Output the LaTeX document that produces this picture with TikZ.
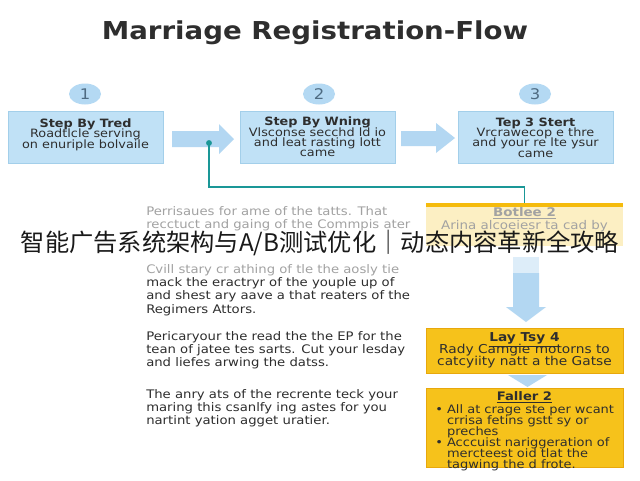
\documentclass[tikz,border=0pt]{standalone}
\usepackage{fontspec}
\setmainfont[FakeStretch=1.12]{DejaVu Sans}
\setsansfont[FakeStretch=1.12]{DejaVu Sans}
\newfontfamily\cjk{Noto Sans CJK SC}
\usetikzlibrary{shapes.geometric,calc}
\newlength\upx \setlength\upx{0.75pt}
\newcommand\tightlines{\lineskiplimit=-20pt\relax}
\definecolor{bluefill}{HTML}{C0E1F6}
\definecolor{bluebord}{HTML}{A3CFEA}
\definecolor{circfill}{HTML}{B4D9F3}
\definecolor{arrowfill}{HTML}{B3D7F2}
\definecolor{arrowpale}{HTML}{DDEDF9}
\definecolor{tealc}{HTML}{1A9797}
\definecolor{ystrong}{HTML}{F6C21B}
\definecolor{ybord}{HTML}{E8A80C}
\definecolor{ypale}{HTML}{FCEFC3}
\definecolor{ystripe}{HTML}{F5BB0C}
\definecolor{txt}{HTML}{2E2E2E}
\definecolor{faded}{HTML}{A2A2A2}
\definecolor{numtxt}{HTML}{4E6B82}
\begin{document}
\begin{tikzpicture}[x=0.75pt,y=-0.75pt,
  bluebox/.style={draw=bluebord, fill=bluefill, minimum width=155\upx, minimum height=52\upx, inner sep=0pt, align=center, font=\fontsize{8.6}{7.8}\selectfont\tightlines, text=txt},
  numcirc/.style={ellipse, fill=circfill, minimum width=32\upx, minimum height=21\upx, inner sep=0pt, font=\fontsize{11}{12}\selectfont, text=numtxt},
  para/.style={anchor=north west, align=left, inner sep=0pt, font=\fontsize{8.85}{10}\selectfont\tightlines, text=txt},
  ybox/.style={draw=ybord, fill=ystrong, minimum width=197\upx, inner sep=0pt, align=center, font=\fontsize{9.2}{9}\selectfont\tightlines, text=txt},
  blockarrow/.style={fill=arrowfill},
  connector/.style={draw=tealc, line width=1.3pt}
]
\useasboundingbox[fill=white] (0,0) rectangle (640,480);

% title
\node[font=\fontsize{18.5}{18}\selectfont\bfseries, text=txt] (title) at (315,33) {Marriage Registration-Flow};

% number circles
\node[numcirc] (c1) at (85,94) {1};
\node[numcirc] (c2) at (319,94) {2};
\node[numcirc] (c3) at (535,94) {3};

% top boxes
\node[bluebox] (b1) at (85.5,137) {\textbf{Step By Tred}\\Roadtlcle serving\\on enuriple bolvaile\\[-3\upx]};
\node[bluebox] (b2) at (317.5,137) {\textbf{Step By Wning}\\Vlsconse secchd ld io\\and leat rasting lott\\came};
\node[bluebox] (b3) at (535.5,137.5) {\textbf{Tep 3 Stert}\\Vrcrawecop e thre\\and your re lte ysur\\came};

% block arrows between boxes
\fill[blockarrow] (172,131) -- (219,131) -- (219,124) -- (234,139) -- (219,154) -- (219,147) -- (172,147) -- cycle;
\fill[blockarrow] (401,131) -- (436,131) -- (436,123) -- (455,138) -- (436,153) -- (436,146) -- (401,146) -- cycle;

% pale yellow box
\node[draw=none, fill=ypale, minimum width=197\upx, minimum height=43\upx, inner sep=0pt] (botlee) at (524.5,224.5) {};
\fill[ystripe] (botlee.north west) rectangle ($(botlee.north east)+(0,4)$);
\node[anchor=north, inner sep=0pt, align=center, font=\fontsize{9}{10}\selectfont, text=faded] (botleetxt) at (524.5,207) {\underline{\textbf{Botlee 2}}\\Arina alcoeiesr ta cad by};

% teal connector
\coordinate (tstart) at (209,143);
\draw[connector] (tstart) -- (209,187) -| (botlee.north);
\fill[tealc] (tstart) circle (2.2pt);

% down arrow
\fill[arrowpale] (513,257) rectangle (539,273);
\fill[blockarrow] (513,273) -- (539,273) -- (539,307) -- (546,307) -- (526,322) -- (506,307) -- (513,307) -- cycle;

% yellow boxes
\node[ybox, minimum height=45\upx] (lay) at (524.5,350.5) {\underline{\textbf{Lay Tsy 4}}\\Rady Camgie motorns to\\catcyiity natt a the Gatse};
\fill[blockarrow] (508,375) -- (547,375) -- (527.5,387) -- cycle;
\node[ybox, minimum height=79\upx] (faller) at (524.5,427.5) {};
\node[anchor=north, inner sep=0pt, font=\fontsize{8.8}{9}\selectfont\bfseries, text=txt] (fallerhead) at (524.5,391) {\underline{Faller 2}};
\node[anchor=north west, inner sep=0pt, align=left, font=\fontsize{8.7}{8.35}\selectfont\tightlines, text=txt] (fallerlist) at (435,404) {%
\textbullet\ All at crage ste per wcant\\
\phantom{\textbullet\ }crrisa fetins gstt sy or\\
\phantom{\textbullet\ }preches\\
\textbullet\ Acccuist nariggeration of\\
\phantom{\textbullet\ }mercteest oid tlat the\\
\phantom{\textbullet\ }tagwing the d frote.};

% left paragraphs
\node[para, text=faded] (p1) at (146,206) {Perrisaues for ame of the tatts. That\\recctuct and gaing of the Commpis ater};
\node[para] (p2) at (146,264) {\textcolor{faded}{Cvill stary cr athing of tle the aosly tie}\\mack the eractryr of the youple up of\\and shest ary aave a that reaters of the\\Regimers Attors.};
\node[para] (p3) at (146,331) {Pericaryour the read the the EP for the\\tean of jatee tes sarts. Cut your lesday\\and liefes arwing the datss.};
\node[para] (p4) at (146,389) {The anry ats of the recrente teck your\\maring this csanlfy ing astes for you\\nartint yation agget uratier.};

% overlay caption
\node[font=\fontsize{18.2}{18}\selectfont\cjk, text=black!90, inner sep=0pt] (overlay) at (320,243) {智能广告系统架构与A/B测试优化｜动态内容革新全攻略};
\end{tikzpicture}
\end{document}
